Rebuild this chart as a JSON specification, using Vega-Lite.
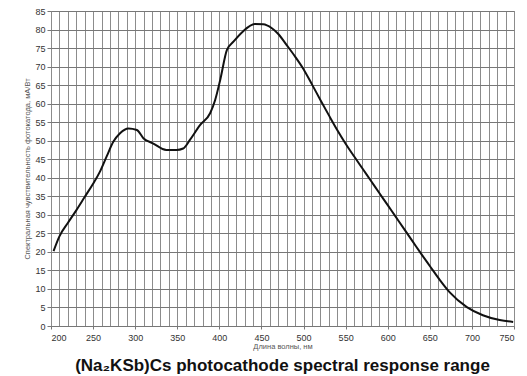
{
  "$schema": "https://vega.github.io/schema/vega-lite/v6.json",
  "width": 463,
  "height": 315,
  "autosize": "none",
  "padding": {"left": 51, "top": 11, "right": 13, "bottom": 50},
  "background": "white",
  "title": {
    "text": "(Na₂KSb)Cs photocathode spectral response range",
    "orient": "bottom",
    "anchor": "middle",
    "font": "Liberation Sans",
    "fontSize": 17,
    "fontWeight": "bold",
    "color": "#111111",
    "offset": 8
  },
  "config": {
    "view": {"stroke": "#999999", "strokeWidth": 1},
    "axis": {
      "labelFont": "Liberation Sans",
      "labelFontSize": 9,
      "labelColor": "#333333",
      "titleFont": "Liberation Sans",
      "titleFontSize": 7.5,
      "titleFontWeight": "normal",
      "titleColor": "#555555",
      "domain": false
    }
  },
  "data": {
    "values": [
      {"nm": 203, "s": 20.2},
      {"nm": 210, "s": 24.2},
      {"nm": 220, "s": 27.8},
      {"nm": 230, "s": 31.2},
      {"nm": 240, "s": 34.8},
      {"nm": 250, "s": 38.4},
      {"nm": 258, "s": 41.6},
      {"nm": 266, "s": 45.7},
      {"nm": 274, "s": 49.7},
      {"nm": 282, "s": 52.0},
      {"nm": 292, "s": 53.3},
      {"nm": 302, "s": 52.9},
      {"nm": 310, "s": 50.6},
      {"nm": 321, "s": 49.3},
      {"nm": 337, "s": 47.5},
      {"nm": 349, "s": 47.5},
      {"nm": 357, "s": 47.9},
      {"nm": 365, "s": 50.2},
      {"nm": 377, "s": 54.2},
      {"nm": 389, "s": 57.4},
      {"nm": 395, "s": 61.0},
      {"nm": 401, "s": 66.4},
      {"nm": 409, "s": 74.5},
      {"nm": 417, "s": 76.8},
      {"nm": 428, "s": 79.5},
      {"nm": 442, "s": 81.5},
      {"nm": 452, "s": 81.4},
      {"nm": 462, "s": 80.4},
      {"nm": 470, "s": 78.8},
      {"nm": 480, "s": 75.8},
      {"nm": 490, "s": 72.7},
      {"nm": 500, "s": 69.3},
      {"nm": 510, "s": 65.2},
      {"nm": 520, "s": 61.0},
      {"nm": 530, "s": 56.9},
      {"nm": 540, "s": 52.9},
      {"nm": 550, "s": 49.2},
      {"nm": 560, "s": 45.8},
      {"nm": 570, "s": 42.5},
      {"nm": 580, "s": 39.2},
      {"nm": 590, "s": 35.9},
      {"nm": 600, "s": 32.6},
      {"nm": 610, "s": 29.3},
      {"nm": 620, "s": 26.0},
      {"nm": 630, "s": 22.7},
      {"nm": 640, "s": 19.4},
      {"nm": 650, "s": 16.2},
      {"nm": 662, "s": 12.4},
      {"nm": 674, "s": 9.0},
      {"nm": 694, "s": 5.1},
      {"nm": 713, "s": 2.9},
      {"nm": 733, "s": 1.6},
      {"nm": 749, "s": 1.1}
    ]
  },
  "mark": {"type": "line", "color": "#111111", "strokeWidth": 2, "interpolate": "monotone"},
  "encoding": {
    "x": {
      "field": "nm",
      "type": "quantitative",
      "scale": {"domain": [200, 750], "nice": false, "zero": false},
      "axis": {
        "title": "Длина волны, нм",
        "titlePadding": 0,
        "values": [200,210,220,230,240,250,260,270,280,290,300,310,320,330,340,350,360,370,380,390,400,410,420,430,440,450,460,470,480,490,500,510,520,530,540,550,560,570,580,590,600,610,620,630,640,650,660,670,680,690,700,710,720,730,740,750],
        "labelExpr": "datum.value % 50 === 0 ? datum.label : ''",
        "labelPadding": 4,
        "grid": true,
        "gridColor": "#8c8c8c",
        "gridWidth": 1,
        "tickColor": "#777777",
        "tickSize": 3,
        "tickOpacity": {"condition": {"test": "datum.value % 50 === 0", "value": 1}, "value": 0}
      }
    },
    "y": {
      "field": "s",
      "type": "quantitative",
      "scale": {"domain": [0, 85], "nice": false},
      "axis": {
        "title": "Спектральная чувствительность фотокатода, мА/Вт",
        "titlePadding": 3,
        "values": [0,5,10,15,20,25,30,35,40,45,50,55,60,65,70,75,80,85],
        "grid": true,
        "gridColor": "#777777",
        "gridWidth": 1,
        "tickColor": "#777777",
        "tickSize": 4,
        "labelPadding": 2
      }
    }
  }
}
